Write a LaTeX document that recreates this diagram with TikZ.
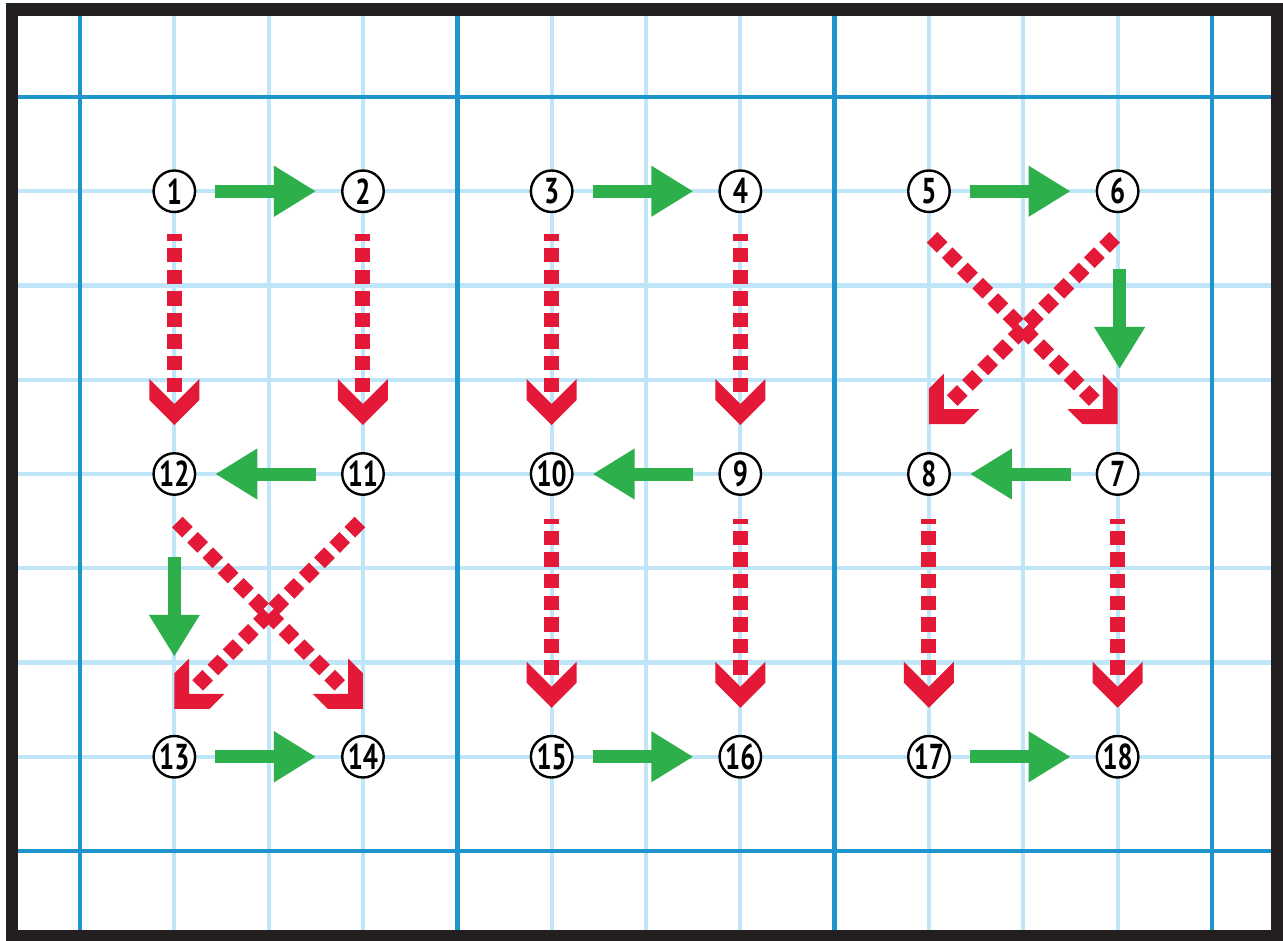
\documentclass[tikz,border=0pt]{standalone}
\usepackage{fontspec}
\newfontfamily\numfont{PT Sans Bold}[FakeStretch=0.74]
\usetikzlibrary{arrows.meta,calc}
\definecolor{framec}{HTML}{231F20}
\definecolor{gdark}{HTML}{1E96CD}
\definecolor{glight}{HTML}{BEE6F8}
\definecolor{gr}{HTML}{2DB04B}
\definecolor{rd}{HTML}{E31937}
\tikzset{
  lightline/.style={draw=glight, line width=4.2},
  darkline/.style={draw=gdark, line width=4.6},
  num/.style={circle, draw=black, line width=2.4, fill=white, minimum size=41.5, inner sep=0,
    font=\fontsize{36}{36}\numfont},
  garrow/.style={draw=gr, line width=13, -{Triangle[length=42pt 0 0,width=48pt 0 0]}},
  rdash/.style={draw=rd, line width=15, dash pattern=on 14.3 off 7.3, dash phase=0},
  chev/.pic={\fill[rd] (0,0) -- (-25,-25) -- (-25,-46) -- (0,-21) -- (25,-46) -- (25,-25) -- cycle;}
}
\begin{document}
\begin{tikzpicture}[x=1pt,y=-1pt]
\useasboundingbox (0,0) rectangle (1283,941);
\fill[white] (0,0) rectangle (1283,941);
% grid
\foreach \k in {1,2,3,5,6,7,9,10,11} \draw[lightline] ({80+\k*94.33},12) -- ({80+\k*94.33},937);
\foreach \j in {1,...,7} \draw[lightline] (12,{97+\j*94.25}) -- (1277,{97+\j*94.25});
\foreach \k in {0,4,8,12} \draw[darkline] ({80+\k*94.33},12) -- ({80+\k*94.33},937);
\foreach \j in {0,8} \draw[darkline] (12,{97+\j*94.25}) -- (1277,{97+\j*94.25});
% nodes
\node[num] (n1)  at (174.33,191.25) {1};
\node[num] (n2)  at (362.99,191.25) {2};
\node[num] (n3)  at (551.65,191.25) {3};
\node[num] (n4)  at (740.31,191.25) {4};
\node[num] (n5)  at (928.97,191.25) {5};
\node[num] (n6)  at (1117.63,191.25) {6};
\node[num] (n12) at (174.33,474) {12};
\node[num] (n11) at (362.99,474) {11};
\node[num] (n10) at (551.65,474) {10};
\node[num] (n9)  at (740.31,474) {9};
\node[num] (n8)  at (928.97,474) {8};
\node[num] (n7)  at (1117.63,474) {7};
\node[num] (n13) at (174.33,756.75) {13};
\node[num] (n14) at (362.99,756.75) {14};
\node[num] (n15) at (551.65,756.75) {15};
\node[num] (n16) at (740.31,756.75) {16};
\node[num] (n17) at (928.97,756.75) {17};
\node[num] (n18) at (1117.63,756.75) {18};
% green arrows
\draw[garrow] ($(n1)+(41,0)$) -- ($(n2)+(-47,0)$);
\draw[garrow] ($(n3)+(41,0)$) -- ($(n4)+(-47,0)$);
\draw[garrow] ($(n5)+(41,0)$) -- ($(n6)+(-47,0)$);
\draw[garrow] ($(n11)+(-47,0)$) -- ($(n12)+(41,0)$);
\draw[garrow] ($(n9)+(-47,0)$) -- ($(n10)+(41,0)$);
\draw[garrow] ($(n7)+(-47,0)$) -- ($(n8)+(41,0)$);
\draw[garrow] ($(n13)+(41,0)$) -- ($(n14)+(-47,0)$);
\draw[garrow] ($(n15)+(41,0)$) -- ($(n16)+(-47,0)$);
\draw[garrow] ($(n17)+(41,0)$) -- ($(n18)+(-47,0)$);
\draw[garrow] ($(n12)+(0,83)$) -- ($(n13)+(0,-100)$);
\draw[garrow] ($(n6)+(2,78)$) -- ($(n7)+(2,-105)$);
% red vertical arrows
\foreach \a/\b/\s in {n1/n12/43, n2/n11/43, n3/n10/43, n4/n9/43, n10/n15/45, n9/n16/45, n8/n17/45, n7/n18/45}{
  \coordinate (tip) at ($(\b)+(0,-49)$);
  \draw[rdash] ($(tip)+(0,-33)$) -- ($(\a)+(0,\s)$);
  \pic at (tip) {chev};
}
% red diagonal arrows
\coordinate (d1s) at ($(n12)+(0,45)$);
\coordinate (d1t) at ($(n14)+(0,-48)$);
\draw[rdash] ($(d1t)!33pt!(d1s)$) -- (d1s);
\pic[rotate=45] at (d1t) {chev};
\coordinate (d2s) at ($(n11)+(0,45)$);
\coordinate (d2t) at ($(n13)+(0,-48)$);
\draw[rdash] ($(d2t)!33pt!(d2s)$) -- (d2s);
\pic[rotate=-45] at (d2t) {chev};
\coordinate (d3s) at ($(n5)+(0,43)$);
\coordinate (d3t) at ($(n7)+(0,-50)$);
\draw[rdash] ($(d3t)!33pt!(d3s)$) -- (d3s);
\pic[rotate=45] at (d3t) {chev};
\coordinate (d4s) at ($(n6)+(0,43)$);
\coordinate (d4t) at ($(n8)+(0,-50)$);
\draw[rdash] ($(d4t)!33pt!(d4s)$) -- (d4s);
\pic[rotate=-45] at (d4t) {chev};
% frame
\draw[framec, line width=12.5] (12,9.5) rectangle (1277.5,936.5);
\end{tikzpicture}
\end{document}
